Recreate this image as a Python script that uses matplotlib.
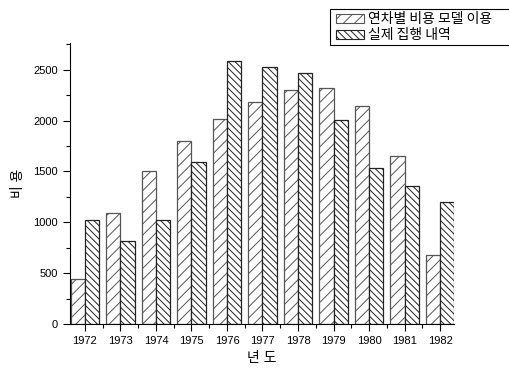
import matplotlib
matplotlib.use("Agg")
import matplotlib.pyplot as plt
from matplotlib.patches import Rectangle
from matplotlib.ticker import MultipleLocator

plt.rcParams['font.family'] = ['Liberation Sans', 'Noto Sans CJK KR', 'DejaVu Sans']
plt.rcParams['hatch.linewidth'] = 0.7

years = [1972, 1973, 1974, 1975, 1976, 1977, 1978, 1979, 1980, 1981, 1982]
model_cost = [440, 1090, 1506, 1798, 2011, 2182, 2303, 2320, 2139, 1650, 682]
actual_spend = [1020, 814, 1020, 1591, 2585, 2526, 2467, 2005, 1535, 1358, 1198]
series_names = ['연차별 비용 모델 이용', '실제 집행 내역']
x_label = '년 도'
y_label = '비 용'

W, H = 509, 369
fig = plt.figure(figsize=(W / 100, H / 100), dpi=100)
ax = fig.add_axes([0.1375, 0.122, 0.755, 0.762])

styles = [dict(edgecolor='#555555', hatch='///'),
          dict(edgecolor='#222222', hatch='\\\\\\\\\\')]

w = 0.40
ax.bar([y - w / 2 for y in years], model_cost, width=w, facecolor='white',
       linewidth=0.9, **styles[0])
ax.bar([y + w / 2 for y in years], actual_spend, width=w, facecolor='white',
       linewidth=0.9, **styles[1])

ax.set_xlim(years[0] - 0.42, years[-1] + 0.4)
ax.set_ylim(0, 2765)
ax.set_xticks(years)
ax.set_xticklabels([str(y) for y in years], fontsize=8)
ax.xaxis.set_minor_locator(MultipleLocator(0.5))
ax.yaxis.set_major_locator(MultipleLocator(500))
ax.yaxis.set_minor_locator(MultipleLocator(250))
ax.tick_params(axis='y', labelsize=8)
ax.tick_params(which='major', length=5, width=0.8, direction='out')
ax.tick_params(which='minor', length=3, width=0.8, direction='out')
for side in ('top', 'right'):
    ax.spines[side].set_visible(False)

ax.set_xlabel(x_label, fontsize=10, labelpad=4)
ax.set_ylabel(y_label, fontsize=10, labelpad=6)


# Legend box in the upper right corner, drawn in figure pixel units
def fx(px):
    return px / W


def fy(py):
    return 1 - py / H


fig.patches.append(Rectangle((fx(330), fy(45)), fx(200), 36 / H,
                             transform=fig.transFigure, facecolor='white',
                             edgecolor='black', linewidth=0.8))
for i, (name, st) in enumerate(zip(series_names, styles)):
    top = 14 + i * 16
    fig.patches.append(Rectangle((fx(336), fy(top + 9)), fx(28), 9 / H,
                                 transform=fig.transFigure, facecolor='white',
                                 linewidth=0.8, **st))
    fig.text(fx(368), fy(top + 4.5), name, transform=fig.transFigure,
             family='Noto Sans CJK KR', fontsize=10, va='center', ha='left')

fig.savefig('out.png', dpi=100)
